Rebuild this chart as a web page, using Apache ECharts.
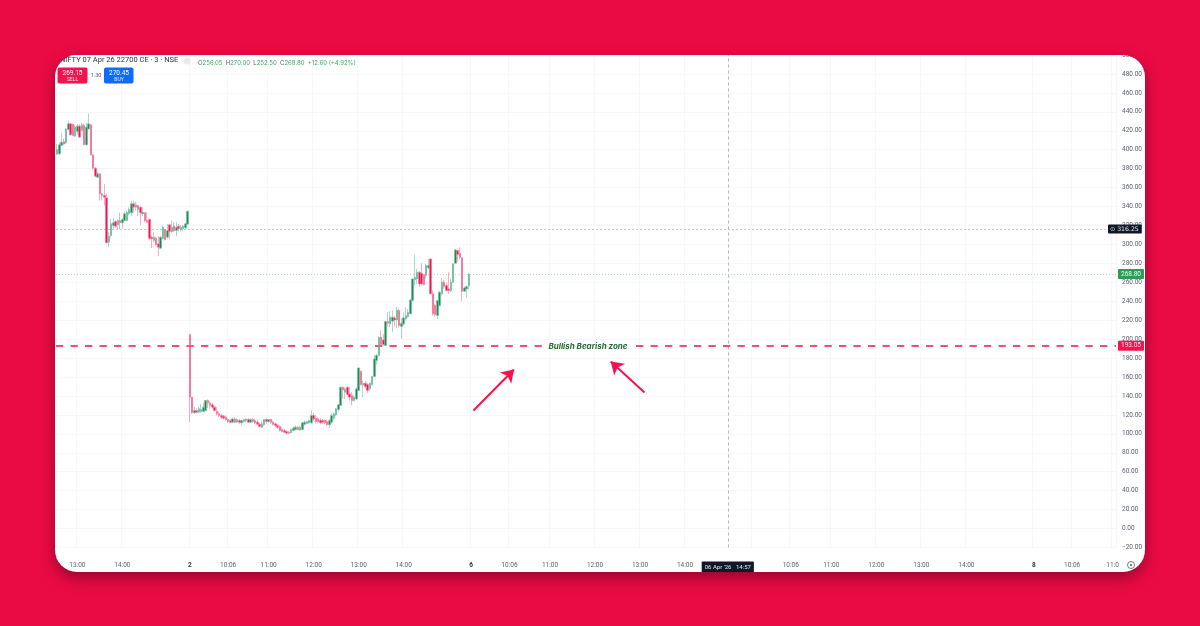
<!DOCTYPE html>
<html><head><meta charset="utf-8">
<style>
html,body{margin:0;padding:0;background:#ea0a44;width:1200px;height:626px;overflow:hidden}
#card{position:absolute;left:55px;top:55px;width:1090px;height:517px;background:#fff;border-radius:22px;box-shadow:0 6px 14px rgba(90,0,30,.55)}
#chart{position:absolute;left:0;top:0;width:1200px;height:626px;clip-path:inset(55px 55px 54px 55px round 20px)}
</style>
<script src="https://cdn.jsdelivr.net/npm/echarts@6/dist/echarts.min.js"></script>
</head><body>
<div id="card"></div><div id="chart"></div>
<script>
// [open, close, low, high] of each 3-minute candle
const day1Candles = [
[395.3,400.2,394.6,406.2],[395.7,405.2,394.6,407.3],[404.5,408,403.8,417.8],[408.7,405.9,405.2,411.5],[407.3,422,406.2,422.8],
[421.4,427.3,420.3,430.9],[427.3,415.7,415,428.4],[427,415,415,427.3],[414.3,423.8,413.6,426.3],[419.2,424.9,415.7,427.3],
[424.9,413.3,412.2,427.3],[420.3,426.3,419.2,428.4],[425.6,405.2,405.2,427.3],[405.2,423.8,404.5,428.4],[422,427.3,421.4,438.3],
[426.3,394.6,393.9,427.3],[394.6,380.5,379.1,395.3],[380.5,372.1,371,381.6],[371,374.5,370,377],[374.5,353.4,346.4,375.2],
[353.4,351.7,346.4,354.5],[351.7,349.9,341.1,364],[349.2,301.7,301.7,353.4],[302.4,308.7,297.1,312.9],[309.4,321.7,307.7,327],
[320,322.8,316.5,327.7],[324.2,319.3,317.2,325.3],[320.7,325.3,315.8,326.3],[325.3,322.8,315.8,333.4],[322.8,326.3,316.5,327.7],
[325.3,332.3,324.9,334.8],[325.3,334,324.9,335.8],[332.3,336.9,331.2,339.3],[333.4,342.9,330.5,346.4],[342.9,339.3,333.4,346.4],
[339.3,341.8,335.8,345.3],[341.1,336.9,329.8,341.8],[339.3,333.4,320,340],[332.3,334,329.8,339.3],[333.4,325.3,323.5,334],
[325.3,323.5,322.8,334],[326.3,306.6,304.1,327],[307.7,305.9,296,309.4],[304.1,307.7,302.4,312.9],[306.6,299.6,298.2,307.7],
[300.6,297.1,287.6,308.7],[296,307.7,295.3,308.7],[305.9,318.2,305.2,320],[315.8,305.2,304.1,316.5],[307.7,314.7,305.9,321.7],
[320.7,313.6,305.2,321.7],[313.6,318.2,312.2,325.3],[319.3,314.7,312.9,323.5],[314.7,318.2,308.7,323.5],[319.3,316.5,313.6,321.7],
[315.8,318.2,313.6,320.7],[316.5,319.3,313.6,320.7],[317.5,321.7,315.8,322.8],[321.4,335.1,320.7,335.5]
];
const day2Candles = [
[204.9,138.7,112.3,204.9],[138.7,122.2,121.1,138.7],[122.2,124.6,121.1,128.2],[124.6,122.9,121.8,127.1],[122.9,126.4,121.8,128.2],
[123.6,125.7,122.2,131.7],[123.6,128.2,122.9,132.7],[124.6,135.2,123.6,135.6],[135.2,132.7,127.1,136.3],[132.7,129.9,126.4,134.1],
[130.6,128.2,126.4,132.7],[128.2,124.6,123.6,129.2],[123.6,121.1,119.4,128.2],[121.1,119.4,117.6,123.6],[119.4,117.6,115.8,121.1],
[118.7,116.5,115.1,120.1],[117.6,115.1,114.1,119.4],[115.1,113,111.6,116.5],[114.1,112.3,111.3,115.8],[112.3,115.8,111.3,117.2],
[115.8,112.3,111.3,117.6],[112.3,115.1,111.3,116.5],[114.1,112.3,110.6,115.8],[111.6,114.1,108.8,114.8],[113,115.1,111.6,115.8],
[113.7,115.8,112.3,116.5],[115.1,112.3,111.6,116.5],[112.3,115.1,111.6,116.5],[115.1,113,111.6,116.5],[114.1,111.6,110.6,115.8],
[112.3,110.2,109.5,115.1],[110.2,107.7,107,111.6],[107,110.6,106,113],[109.5,115.1,108.8,115.8],[115.1,113,110.6,116.5],
[113,115.1,111.6,115.8],[115.1,112.3,110.6,115.8],[112.3,110.2,108.8,114.1],[110.6,108.8,107,111.6],[108.8,107,105.3,110.6],
[107.7,103.5,102.5,108.8],[104.6,102.5,101.8,107],[103.5,101.8,100.7,105.3],[102.5,100.7,100,103.5],[101.8,100.7,100,103.2],
[101.1,104.6,100.4,105.3],[103.5,106,102.5,108.1],[104.6,107,103.5,108.8],[107,104.6,103.5,108.1],[103.9,107,103.2,108.8],
[104.6,111.6,103.5,112.3],[110.2,112.3,108.8,114.1],[110.9,113,110.2,113.7],[111.6,114.1,110.2,115.1],[111.6,119.4,110.6,124.6],
[119.4,115.8,114.1,122.2],[116.5,113,110.9,120.1],[115.8,113,110.9,117.2],[114.4,111.6,110.2,116.5],[114.1,112.3,110.2,115.8],
[114.4,111.6,110.2,115.1],[113,109.5,108.8,115.1],[109.5,114.1,106,115.8],[112.3,119.4,110.6,121.1],[116.5,121.1,114.8,122.2],
[120.1,126.4,118.7,127.1],[125.7,130.6,123.6,131.7],[129.9,149.3,129.2,149.6],[149.2,146.4,136.9,149.9],[143.9,147.5,136.9,149.2],
[149.2,141.5,140.4,149.9],[142.2,138.7,135.1,149.2],[140.4,135.1,129.9,143.9],[135.1,138.7,134.4,140.4],[136.9,147.5,135.8,149.2],
[145.7,169.6,145,170.3],[166.1,152,151,166.8],[151.3,153.4,138.7,156.3],[153.4,149.9,147.5,155.6],[152,145.7,142.9,153.4],
[147.5,153.4,145.7,154.5],[152,160.5,151,161.5],[160.5,179.1,159.8,183.4],[177.4,182.7,173.2,184.4],[182.7,202,181.6,202.7],
[202,194.3,192.2,209.1],[199.2,194.3,192.9,205.5],[193.2,218.6,192.9,219.6],[218.6,216.8,213.3,228.4],[216.1,223.1,212.6,229.5],
[218.9,223.1,207.3,230.2],[222.4,220.3,213.3,224.9],[220.3,230.2,211.9,233.7],[230.2,214.3,212.6,231.9],[213.3,216.8,200.3,222.4],
[216.1,222.4,214.3,228.4],[221.4,224.9,219.6,233.7],[223.8,228.4,222.4,231.9],[226.7,241.4,226,242.5],[240.7,263.6,240,264.3],
[262.6,265.4,256.6,289.3],[263.6,270.7,258.3,274.2],[270.7,258.3,254.8,271.7],[269.6,258.3,256.6,280.2],[268.2,257.6,256.6,268.9],
[267.1,277.7,263.6,279.5],[275.2,277.7,274.2,284.7],[284.7,247.8,247.1,284.7],[247.8,226.7,224.9,251.3],[235.5,225.9,223.8,237.2],
[224.9,240.7,221.4,241.4],[235.5,249.5,234.4,251.3],[247.8,260.1,246,264.7],[260.1,255.5,253,262.6],[256.6,251.3,250.6,259],
[253,251.3,247.8,270.7],[251.3,260.1,249.5,263.6],[260.1,279.5,259,280.2],[280.2,294.2,279.5,295.3],[293.5,289.3,281.2,294.2],
[290.7,286.5,284.7,297.1],[285.8,250.6,240,286.5],[250.6,254.1,249.5,255.5],[253,255.5,243.6,256.6],[256.05,268.8,252.5,270]
];
// session sizes, in 3-minute bars: first day opens at 12:33, the last one is cut by the axis
const sessionStarts = [["1",12*60+33,59],["2",9*60+15,125],["6",9*60+15,125],["7",9*60+15,125],["8",9*60+15,37]];
// [category, text on the axis]
const xTickLabels = [
["1 13:00","13:00"],["1 14:00","14:00"],["2 09:15","{b|2}"],["2 10:06","10:06"],["2 11:00","11:00"],["2 12:00","12:00"],["2 13:00","13:00"],["2 14:00","14:00"],
["6 09:15","{b|6}"],["6 10:06","10:06"],["6 11:00","11:00"],["6 12:00","12:00"],["6 13:00","13:00"],["6 14:00","14:00"],
["6 14:57","{t|06 Apr '26   14:57}"],
["7 10:06","10:06"],["7 11:00","11:00"],["7 12:00","12:00"],["7 13:00","13:00"],["7 14:00","14:00"],
["8 09:15","{b|8}"],["8 10:06","10:06"],["8 11:00","11:0"]
];
const gridOnlyTicks = ["7 09:15"];
const crosshairTime = "6 14:57";
const crosshairPrice = 316.25;
const lastPrice = 268.80;
const zonePrice = 193.05;
const zoneLabel = "Bullish Bearish zone";
const arrowUpFrom = ["6 09:18",124.6], arrowUpTo = ["6 10:12",167.9];
const arrowDownFrom = ["6 13:06",143.6], arrowDownTo = ["6 12:21",176.3];
const headerTitle = "NIFTY 07 Apr 26 22700 CE · 3 · NSE";
const ohlc = {O:"256.05",H:"270.00",L:"252.50",C:"268.80"};
const change = "+12.60 (+4.92%)";
const sellQuote = ["269.15","SELL"], buyQuote = ["270.45","BUY"], spread = "1.30";

const pad = n => String(n).padStart(2,"0");
const categories = [];
sessionStarts.forEach(([d,start,n]) => { for(let i=0;i<n;i++){const m=start+3*i;categories.push(d+" "+pad(Math.floor(m/60))+":"+pad(m%60));} });
const candles = day1Candles.concat(day2Candles);
const seriesData = categories.map((c,i)=> candles[i] || "-");
const labelMap = new Map(xTickLabels);
const gridSet = new Set(xTickLabels.map(t=>t[0]).concat(gridOnlyTicks).filter(k=>k!==crosshairTime));

const GREEN="#23894a", RED="#f5124f", TXT="#5a6070", FONT="Roboto";
const chart = echarts.init(document.getElementById("chart"),null,{renderer:"canvas"});
chart.setOption({
  backgroundColor:"transparent",
  animation:false,
  grid:{left:56,top:55,width:1060,height:492.5,containLabel:false},
  xAxis:{type:"category",data:categories,boundaryGap:true,
    axisLine:{show:false},axisTick:{show:false},
    axisLabel:{margin:14,fontFamily:FONT,fontSize:6.5,color:TXT,
      interval:(i,v)=>labelMap.has(v),
      formatter:v=>labelMap.get(v)||"",
      rich:{b:{fontFamily:FONT,fontSize:6.5,fontWeight:"bold",color:"#333"},
            t:{fontFamily:FONT,fontSize:6,color:"#e8e8ee",backgroundColor:"#101828",padding:[3,3,2,3],borderRadius:1}}},
    splitLine:{show:true,interval:(i,v)=>gridSet.has(v),lineStyle:{color:"#f7f7f9",width:1}}},
  yAxis:{type:"value",position:"right",min:-20,max:500,interval:20,
    axisLine:{show:false},axisTick:{show:false},
    axisLabel:{margin:6,fontFamily:FONT,fontSize:6.5,color:TXT,formatter:v=>v<0?"−"+Math.abs(v).toFixed(2):v.toFixed(2)},
    splitLine:{show:true,lineStyle:{color:"#f7f7f9",width:1}}},
  series:[{type:"candlestick",data:seriesData,barWidth:2,z:5,
    itemStyle:{color:GREEN,color0:RED,borderColor:"#6fc0a8",borderColor0:"#f7739b",borderWidth:0.6},
    markLine:{silent:true,symbol:"none",animation:false,precision:2,
      data:[
        {xAxis:crosshairTime,lineStyle:{color:"#b0b4bc",type:[3,3],width:1},label:{show:false}},
        {yAxis:crosshairPrice,lineStyle:{color:"#c6c9d0",type:[2,2],width:1},
          label:{show:true,position:"end",distance:-8,formatter:"⊙ 316.25",fontFamily:"DejaVu Sans",fontSize:6.2,color:"#e8e8ee",backgroundColor:"#101828",padding:[2,3,1,2],borderRadius:1}},
        {yAxis:lastPrice,lineStyle:{color:"#bcd6c1",type:[1,2],width:1},
          label:{show:true,position:"end",distance:2,formatter:"268.80",fontFamily:FONT,fontSize:6.5,color:"#e8ffe8",backgroundColor:"#2f9a58",padding:[2,3,1,3],borderRadius:1}},
        {yAxis:zonePrice,lineStyle:{color:RED,type:[7.3,7.2],width:1.6},
          label:{show:true,position:"end",distance:2,formatter:"193.05",fontFamily:FONT,fontSize:6.5,color:"#ffe5ee",backgroundColor:RED,padding:[2,3,1,3],borderRadius:1}},
        {yAxis:zonePrice,lineStyle:{color:"transparent",width:0},
          label:{show:true,position:"middle",formatter:zoneLabel,fontFamily:"Inter",fontSize:8,fontStyle:"italic",fontWeight:"bold",color:"#1f6b34",backgroundColor:"#fff",padding:[1,3],offset:[2,11]}},
        [{coord:arrowUpFrom,symbol:"none"},{coord:arrowUpTo,symbol:"arrow",symbolSize:12,lineStyle:{color:RED,width:2,type:"solid"},label:{show:false}}],
        [{coord:arrowDownFrom,symbol:"none"},{coord:arrowDownTo,symbol:"arrow",symbolSize:12,lineStyle:{color:RED,width:2,type:"solid"},label:{show:false}}]
      ]}
  }],
  graphic:[
    {type:"text",left:60,top:56,z:20,style:{text:headerTitle,fontFamily:FONT,fontSize:7.5,fill:"#2c3240"}},
    {type:"circle",shape:{cx:187,cy:61,r:3.5},z:20,style:{fill:"#e8e9ec"}},
    {type:"text",left:198,top:57,z:20,style:{
      text:`{g|O}{v|${ohlc.O}} {g|H}{v|${ohlc.H}} {g|L}{v|${ohlc.L}} {g|C}{v|${ohlc.C}} {v|${change}}`,
      rich:{g:{fontFamily:"Inter",fontSize:6,fill:"#5a6070"},v:{fontFamily:"Inter",fontSize:6,fill:"#3aa565"}}}},
    {type:"rect",shape:{x:57.5,y:67.5,width:30,height:16,r:2},z:20,style:{fill:RED}},
    {type:"text",x:72.5,y:73,z:21,style:{text:sellQuote[0],fontFamily:FONT,fontSize:6.5,fill:"#fff",align:"center",verticalAlign:"middle"}},
    {type:"text",x:72.5,y:79.5,z:21,style:{text:sellQuote[1],fontFamily:FONT,fontSize:5,fill:"#ffe5ee",align:"center",verticalAlign:"middle"}},
    {type:"text",x:96,y:76,z:21,style:{text:spread,fontFamily:FONT,fontSize:5.5,fill:"#5a6070",align:"center",verticalAlign:"middle"}},
    {type:"rect",shape:{x:104,y:67.5,width:29.5,height:16,r:2},z:20,style:{fill:"#0f6bff"}},
    {type:"text",x:119,y:73,z:21,style:{text:buyQuote[0],fontFamily:FONT,fontSize:6.5,fill:"#fff",align:"center",verticalAlign:"middle"}},
    {type:"text",x:119,y:79.5,z:21,style:{text:buyQuote[1],fontFamily:FONT,fontSize:5,fill:"#e5efff",align:"center",verticalAlign:"middle"}},
    {type:"circle",shape:{cx:1131,cy:565,r:3.5},z:20,style:{fill:"#fff",stroke:"#555",lineWidth:0.8}},
    {type:"circle",shape:{cx:1131,cy:565,r:1.2},z:20,style:{fill:"#777"}}
  ]
});
</script>
</body></html>
